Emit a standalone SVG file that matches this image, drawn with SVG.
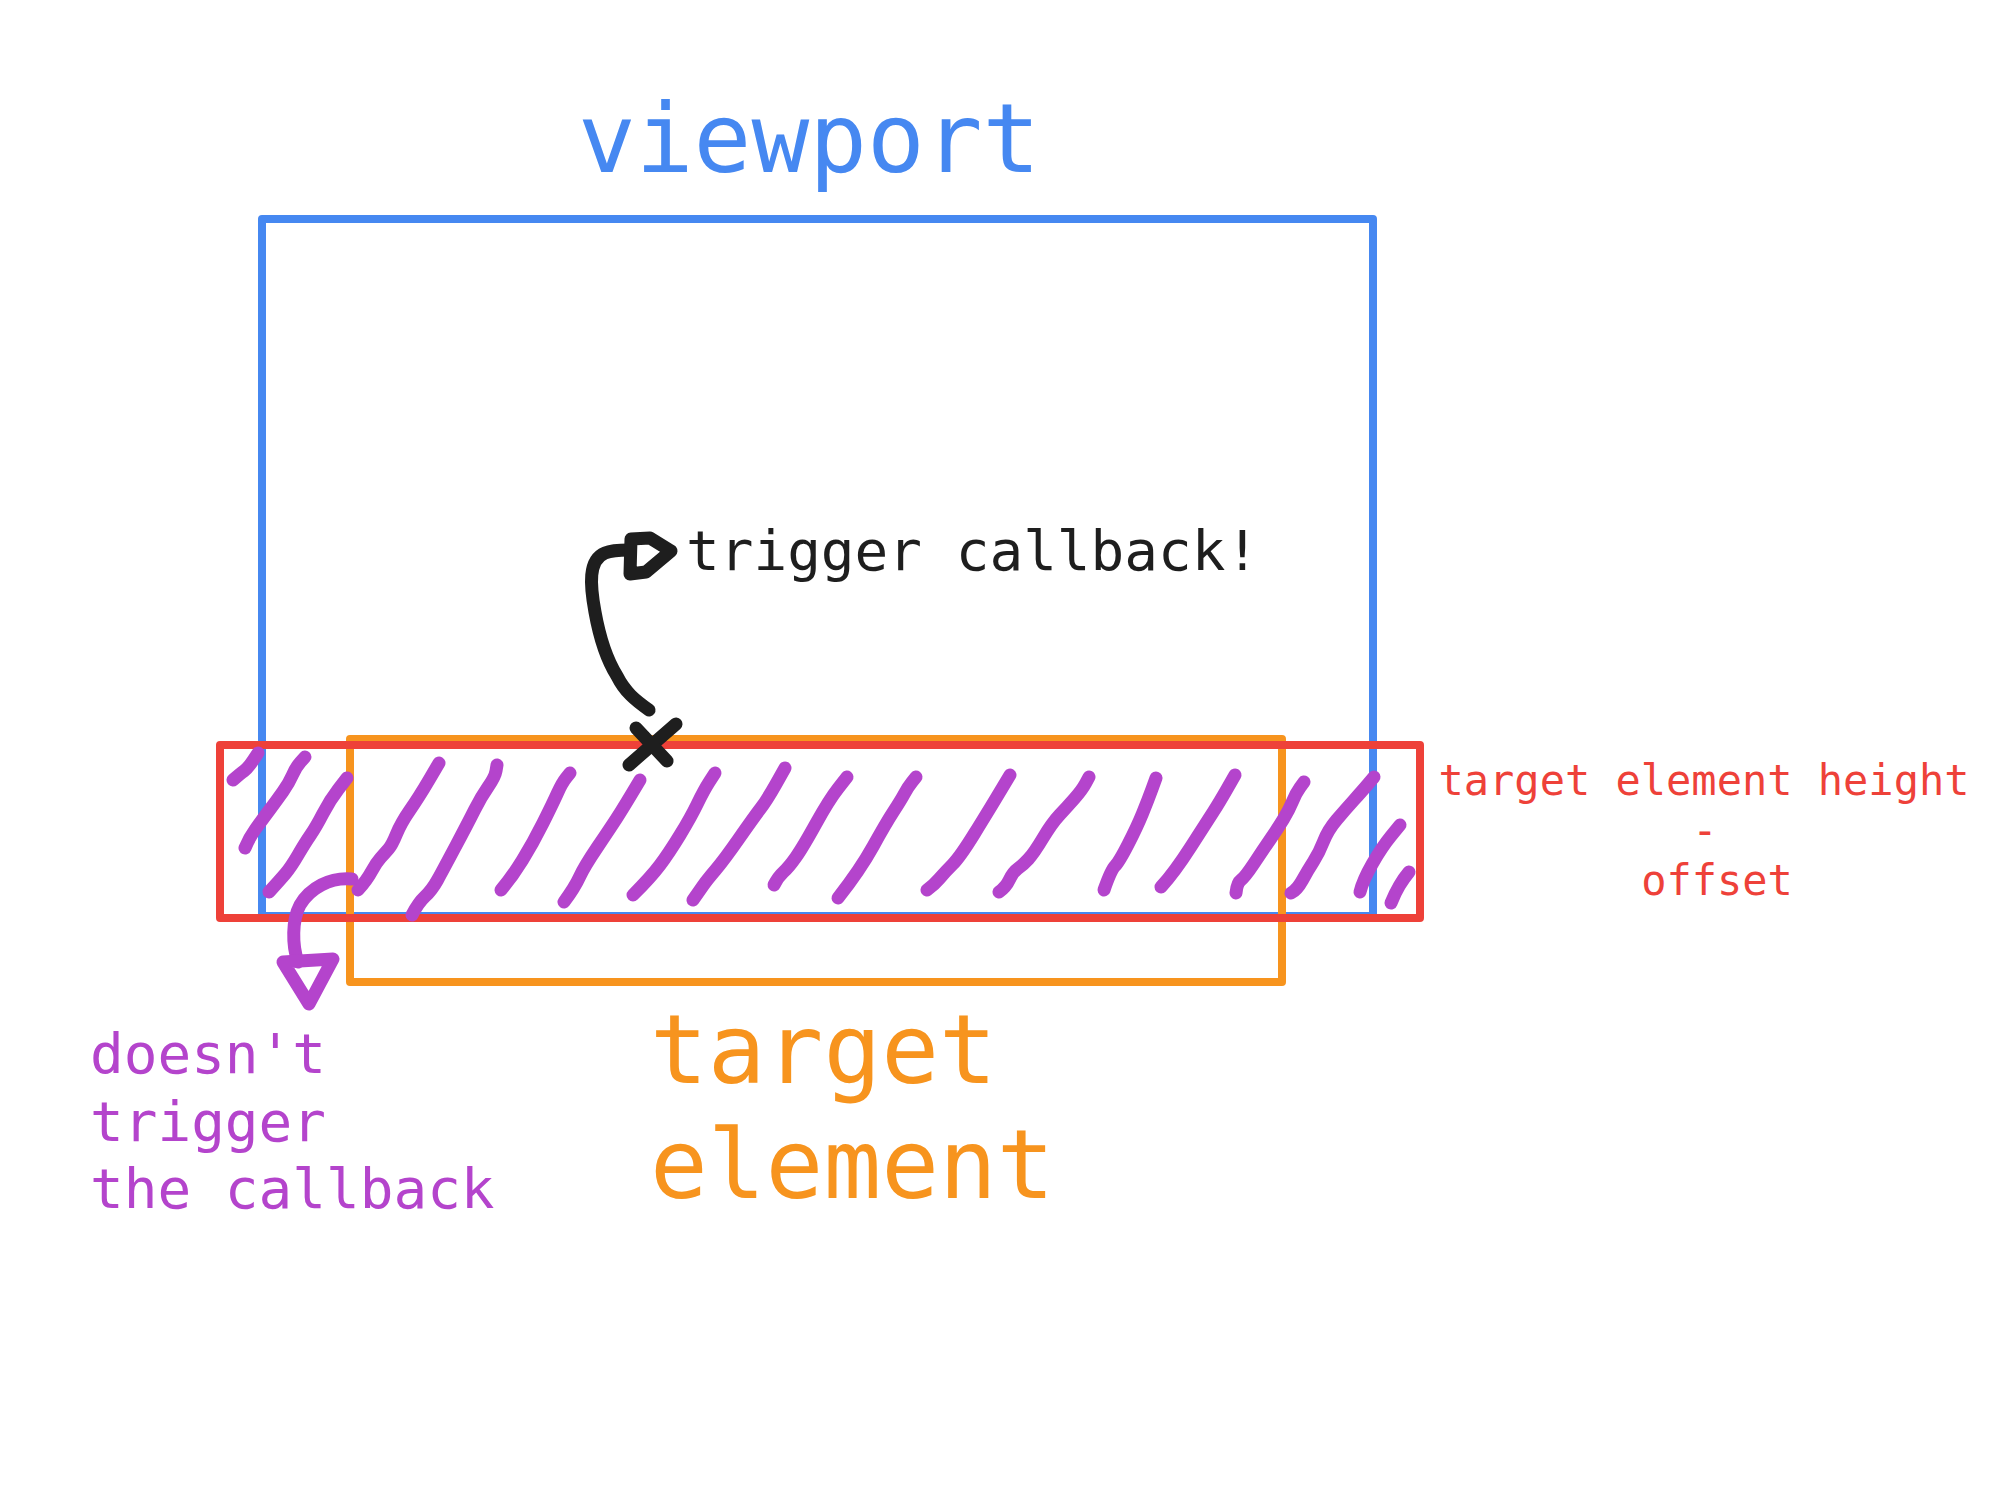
<svg xmlns="http://www.w3.org/2000/svg" width="1992" height="1494" viewBox="0 0 1992 1494">
<style>
.t{font-family:"DejaVu Sans Mono","Liberation Mono",monospace}
.box{fill:none;stroke-width:8;stroke-linejoin:round;stroke-linecap:round}
.hatch{fill:none;stroke:#b444cc;stroke-width:13;stroke-linecap:round;stroke-linejoin:round}
.ink{fill:none;stroke:#1e1e1e;stroke-width:13;stroke-linecap:round;stroke-linejoin:round}
</style>
<rect width="1992" height="1494" fill="#ffffff"/>
<g id="viewport">
<rect class="box" x="262" y="219" width="1111" height="697" stroke="#4688f1"/>
<text class="t" x="578" y="172" font-size="96" fill="#4688f1">viewport</text>
</g>
<g id="target-element">
<rect class="box" x="350" y="739" width="932" height="243" stroke="#f7941e"/>
<text class="t" x="650" y="1083" font-size="96" fill="#f7941e">target</text>
<text class="t" x="650" y="1198" font-size="96" fill="#f7941e">element</text>
</g>
<g id="offset-zone">
<rect class="box" x="220" y="745" width="1200" height="173" stroke="#ee4139" stroke-width="9"/>
<text class="t" font-size="42" fill="#ee4139" text-anchor="middle"><tspan x="1704" y="795">target element height</tspan><tspan x="1705" y="845">-</tspan><tspan x="1717" y="895">offset</tspan></text>
</g>
<g id="hatching">
<path class="hatch" d="M233,780 Q240,774 244,771 Q248,768 253,760.5 L258,753"/>
<path class="hatch" d="M245,848 Q249,838 255.5,829 Q262,820 269.5,810 Q277,800 283,791.5 Q289,783 292.5,775 Q296,767 300.5,762 L305,757"/>
<path class="hatch" d="M269,892 Q280,880 285.5,873.5 Q291,867 298,855 Q305,843 310.5,835 Q316,827 323,813.5 Q330,800 338.5,789 L347,778"/>
<path class="hatch" d="M358,890 Q367,880 371.5,871.5 Q376,863 380.5,858 Q385,853 388.5,849 Q392,845 396.5,834 Q401,823 410,810 Q419,797 429,780 L439,763"/>
<path class="hatch" d="M412,915 Q418,903 425,896.5 Q432,890 437.5,880 Q443,870 455.5,846.5 Q468,823 474.5,810 Q481,797 488,787 Q495,777 496,771 L497,765"/>
<path class="hatch" d="M501,890 Q512,877 522.5,860 Q533,843 543,823 Q553,803 557.5,793 Q562,783 566,778 L570,773"/>
<path class="hatch" d="M564,902 Q575,887 579.5,877 Q584,867 597.5,847 Q611,827 616.5,818.5 Q622,810 631,795 L640,780"/>
<path class="hatch" d="M633,895 Q651,877 660,865 Q669,853 680,835 Q691,817 697.5,803.5 Q704,790 709.5,781.5 L715,773"/>
<path class="hatch" d="M693,900 Q700,890 703.5,885 Q707,880 715.5,870 Q724,860 739,838.5 Q754,817 760.5,808.5 Q767,800 776,784 L785,768"/>
<path class="hatch" d="M774,885 Q778,877 783.5,872 Q789,867 796,857 Q803,847 816,823.5 Q829,800 838,788.5 L847,777"/>
<path class="hatch" d="M838,898 Q860,870 873,846.5 Q886,823 893.5,811.5 Q901,800 904.5,793.5 Q908,787 912,782 L916,777"/>
<path class="hatch" d="M927,890 Q934,885 939.5,878.5 Q945,872 952.5,864.5 Q960,857 974.5,833.5 Q989,810 995,800 Q1001,790 1005.5,782.5 L1010,775"/>
<path class="hatch" d="M999,892 Q1006,887 1009.5,879.5 Q1013,872 1018,868.5 Q1023,865 1028.5,859 Q1034,853 1043,838 Q1052,823 1059.5,815 Q1067,807 1074.5,798.5 Q1082,790 1085.5,783.5 L1089,777"/>
<path class="hatch" d="M1104,890 Q1111,870 1115,866 Q1119,862 1128,844.5 Q1137,827 1142.5,813.5 Q1148,800 1152,789 L1156,778"/>
<path class="hatch" d="M1161,887 Q1174,873 1191,846.5 Q1208,820 1213.5,811.5 Q1219,803 1227,789 L1235,775"/>
<path class="hatch" d="M1236,893 Q1237,883 1241,880 Q1245,877 1254,863.5 Q1263,850 1270.5,839 Q1278,828 1283.5,819 Q1289,810 1292.5,801.5 Q1296,793 1300,787.5 L1304,782"/>
<path class="hatch" d="M1291,893 Q1297,890 1302.5,880 Q1308,870 1313.5,861.5 Q1319,853 1323.5,841.5 Q1328,830 1336.5,820 Q1345,810 1354,800 Q1363,790 1368.5,783.5 L1374,777"/>
<path class="hatch" d="M1360,892 Q1363,880 1372.5,863.5 Q1382,847 1391,836 L1400,825"/>
<path class="hatch" d="M1391,903 Q1395,893 1399.5,885.5 Q1404,878 1409,872"/>
</g>
<g id="no-trigger">
<path class="hatch" d="M352,879 C330,877 310,888 300,905 C292,920 292,945 298,962"/>
<path class="hatch" d="M283,962 L333,959 L309,1004 Z"/>
<text class="t" font-size="56" fill="#b444cc"><tspan x="90" y="1073">doesn't</tspan><tspan x="90" y="1141">trigger</tspan><tspan x="90" y="1208">the callback</tspan></text>
</g>
<g id="trigger">
<path class="ink" d="M629,765 L676,724"/>
<path class="ink" d="M636,728 L667,761"/>
<text class="t" x="686" y="570" font-size="56" fill="#1e1e1e">trigger callback!</text>
</g>
<g id="connectors">
<path class="ink" d="M649,710 C635,700 625,692 617,676 C607,660 600,640 595,612 C590,585 588,560 605,553 C612,550 620,550 629,550"/>
<path class="ink" d="M631,539 L630,574 L646,572 L671,551 L650,538 Z"/>
</g>
</svg>
